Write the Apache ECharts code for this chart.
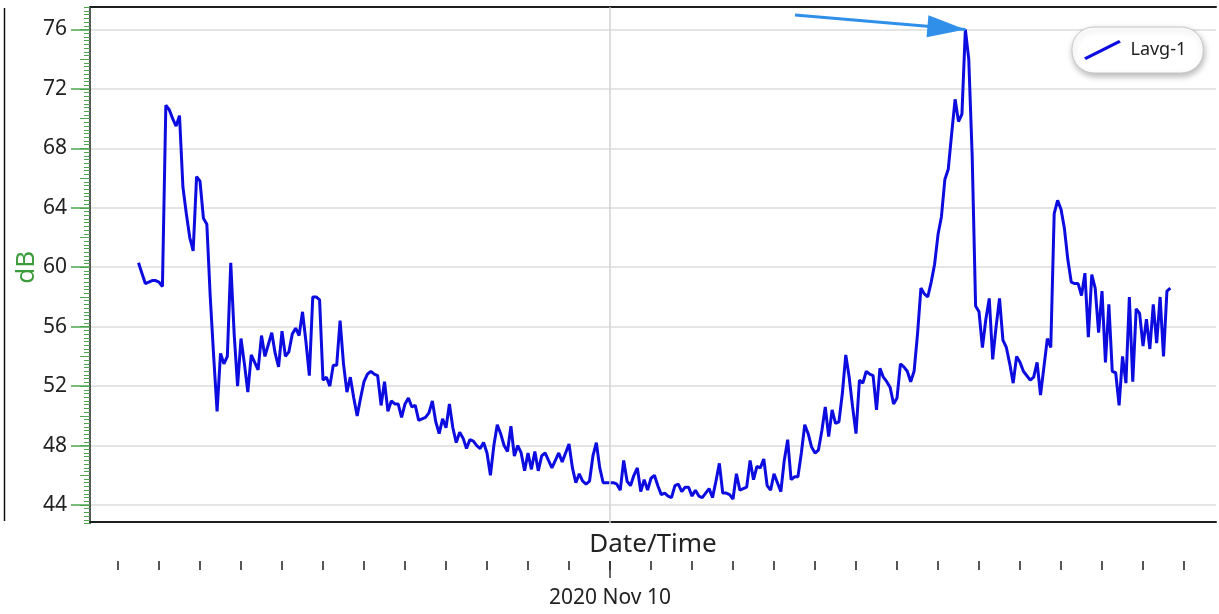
<!DOCTYPE html>
<html>
<head>
<meta charset="utf-8">
<script src="https://cdn.jsdelivr.net/npm/echarts@6/dist/echarts.min.js"></script>
<style>
html,body{margin:0;padding:0;background:#fff;}
#c{width:1219px;height:614px;}
</style>
</head>
<body>
<div id="c"></div>
<script>
// ---- data ----
const seriesName = 'Lavg-1';
const startTime = Date.UTC(2020, 10, 9, 12, 30); // first sample
const stepMinutes = 5;
const lavg = [
60.3,59.6,58.9,59.0,59.1,59.1,59.0,58.7,70.9,70.6,
70.0,69.5,70.2,65.4,63.6,62.0,61.1,66.1,65.8,63.3,
62.9,58.0,54.0,50.3,54.2,53.5,54.0,60.3,55.5,52.0,
55.2,53.5,51.6,54.1,53.6,53.1,55.4,54.0,54.8,55.6,
54.2,53.3,55.7,54.0,54.3,55.5,55.9,55.4,57.0,55.0,
52.7,58.0,58.0,57.8,52.4,52.6,52.0,53.4,53.4,56.4,
53.5,51.6,52.6,51.2,50.0,51.2,52.3,52.8,53.0,52.8,
52.7,50.7,52.3,50.3,51.0,50.8,50.8,49.9,50.8,51.2,
50.6,50.7,49.7,49.8,49.9,50.2,51.0,49.6,48.8,49.8,
49.2,50.8,49.2,48.2,48.9,48.5,47.8,48.4,48.3,48.0,
47.8,48.2,47.5,46.0,48.0,49.4,48.8,48.0,47.6,49.3,
47.3,48.0,47.5,46.3,47.5,46.4,47.6,46.3,47.3,47.5,
47.0,46.5,47.0,47.5,46.9,47.5,48.1,46.5,45.5,46.1,
45.6,45.4,45.6,47.3,48.2,46.5,45.5,45.5,45.5,45.5,
45.4,45.0,47.0,45.6,45.3,46.0,46.5,44.9,45.7,45.0,
45.8,46.0,45.3,44.7,44.8,44.6,44.5,45.3,45.4,44.9,
45.2,45.2,44.6,45.0,44.6,44.5,44.8,45.1,44.5,45.6,
46.8,44.8,44.8,44.7,44.4,46.1,45.0,45.1,45.2,47.0,
45.7,46.6,46.5,47.1,45.3,45.0,46.1,45.5,44.9,47.0,
48.4,45.7,45.9,45.9,47.5,49.4,48.8,47.9,47.5,47.7,
49.0,50.6,48.6,50.4,49.5,49.6,51.5,54.1,52.6,50.6,
48.8,52.4,52.2,53.0,52.8,52.7,50.4,53.2,52.6,52.3,
51.9,50.8,51.2,53.5,53.3,53.0,52.3,53.0,55.5,58.6,
58.2,58.0,59.0,60.2,62.2,63.4,65.9,66.6,69.0,71.3,
69.8,70.3,76.0,74.0,67.5,57.4,57.0,54.6,56.5,57.9,
53.8,56.0,57.9,55.1,54.6,53.5,52.2,54.0,53.6,53.0,
52.7,52.4,52.6,53.6,51.4,53.3,55.2,54.6,63.6,64.5,
63.9,62.6,60.5,59.0,58.9,58.9,58.1,59.6,55.3,59.5,
58.6,55.6,58.4,53.6,57.5,53.0,52.9,50.7,54.0,52.2,
58.0,52.3,57.2,56.9,54.7,56.5,54.5,57.5,54.9,58.0,
54.0,58.4,58.6
];
const yTicks = [44, 48, 52, 56, 60, 64, 68, 72, 76];
const hourTicks = [-12,-11,-10,-9,-8,-7,-6,-5,-4,-3,-2,-1,0,1,2,3,4,5,6,7,8,9,10,11,12,13,14];
const dayLabel = '2020 Nov 10';
const yUnit = 'dB';
const xTitle = 'Date/Time';

// ---- derived ----
const HOUR = 3600 * 1000;
const midnight = Date.UTC(2020, 10, 10, 0, 0);
const xMin = midnight - 12.683 * HOUR;
const xMax = midnight + 14.78 * HOUR;
const arrowFrom = [midnight + 4.512 * HOUR, 76.98];
const points = lavg.map((v, i) => [startTime + i * stepMinutes * 60000, v]);

const GREEN = '#4ea64e';
const FONT = 'Noto Sans';
const G = {outerBoundsMode: 'none', containLabel: false};
const plotGrid = Object.assign({left: 90, right: 3, top: 29.48, height: 475.52}, G);
const rowGrid = Object.assign({left: 118, right: 35, top: 555, height: 6}, G);
const hiddenY = (g) => ({gridIndex: g, type: 'value', show: false, min: 0, max: 1});
const hiddenTimeX = (g) => ({gridIndex: g, type: 'time', min: xMin, max: xMax, show: false});

const chart = echarts.init(document.getElementById('c'), null, {renderer: 'canvas'});
chart.setOption({
  animation: false,
  backgroundColor: '#fff',
  textStyle: {fontFamily: FONT},
  grid: [
    Object.assign({left: 90, right: 3, top: 7.19, height: 516.39}, G), // 0 ruler + series
    Object.assign({}, plotGrid),   // 1 labels + frame
    Object.assign({}, plotGrid),   // 2 medium ticks
    Object.assign({}, rowGrid),    // 3 hour ticks
    Object.assign({}, rowGrid)     // 4 day tick + label
  ],
  legend: {
    left: 1072, top: 27,
    padding: [13, 17, 13, 12],
    itemWidth: 38, itemHeight: 20, itemGap: 6,
    backgroundColor: '#fff',
    borderColor: '#c8c8c8', borderWidth: 1, borderRadius: 22,
    shadowBlur: 6, shadowColor: 'rgba(0,0,0,0.28)', shadowOffsetX: 1, shadowOffsetY: 3,
    textStyle: {fontSize: 18, color: '#222', fontFamily: FONT, padding: [0, 0, 0, 4]},
    data: [{name: seriesName, icon: 'path://M0,18 L36,0 L38,2.6 L2,20.6 Z'}]
  },
  xAxis: [
    hiddenTimeX(0),
    {gridIndex: 1, type: 'time', min: xMin, max: xMax, position: 'bottom', offset: 16.5,
      axisLine: {show: true, lineStyle: {color: '#1e1e1e', width: 2}},
      axisTick: {show: false}, axisLabel: {show: false}, splitLine: {show: false},
      name: xTitle, nameLocation: 'middle', nameGap: 10,
      nameTextStyle: {fontSize: 26, color: '#222', fontFamily: FONT}},
    {gridIndex: 1, type: 'time', min: xMin, max: xMax, position: 'top', offset: 22.5,
      axisLine: {show: true, lineStyle: {color: '#1e1e1e', width: 2}},
      axisTick: {show: false}, axisLabel: {show: false}, splitLine: {show: false}},
    hiddenTimeX(2),
    {gridIndex: 3, type: 'category', data: hourTicks, boundaryGap: false, position: 'bottom',
      axisLine: {show: false},
      axisTick: {show: true, length: 9, lineStyle: {color: '#555', width: 2}},
      axisLabel: {show: false}, splitLine: {show: false}},
    {gridIndex: 4, type: 'category', data: hourTicks, boundaryGap: false, position: 'bottom',
      axisLine: {show: false},
      axisTick: {show: true, length: 17, interval: (i, v) => Number(v) === 0, lineStyle: {color: '#333', width: 1.5}},
      axisLabel: {show: true, interval: (i, v) => Number(v) === 0, formatter: () => dayLabel,
        margin: 27, fontSize: 21, color: '#222', fontFamily: FONT},
      splitLine: {show: false}}
  ],
  yAxis: [
    {gridIndex: 0, type: 'value', min: 42.75, max: 77.5, interval: 0.25,
      axisLine: {show: true, lineStyle: {color: '#1e1e1e', width: 1.5}},
      axisTick: {show: true, length: 6, lineStyle: {color: GREEN, width: 1}},
      axisLabel: {show: false}, splitLine: {show: false}},
    {gridIndex: 1, type: 'value', min: yTicks[0], max: yTicks[yTicks.length - 1], interval: 4,
      axisLine: {show: false},
      axisTick: {show: true, length: 19, lineStyle: {color: GREEN, width: 1.5}},
      axisLabel: {show: true, margin: 23, fontSize: 21, color: '#222', fontFamily: FONT},
      splitLine: {show: true, lineStyle: {color: '#dcdcdc', width: 1.5}},
      name: yUnit, nameLocation: 'middle', nameGap: 50, nameRotate: 90, nameMoveOverlap: false,
      nameTextStyle: {fontSize: 26, color: '#3c9c3c', fontFamily: FONT}},
    {gridIndex: 2, type: 'value', min: yTicks[0], max: yTicks[yTicks.length - 1], interval: 2,
      axisLine: {show: false},
      axisTick: {show: true, length: 10, lineStyle: {color: GREEN, width: 1}},
      axisLabel: {show: false}, splitLine: {show: false}},
    hiddenY(3),
    hiddenY(4)
  ],
  series: [{
    name: seriesName,
    type: 'line',
    xAxisIndex: 0, yAxisIndex: 0,
    data: points,
    showSymbol: false, symbol: 'none',
    lineStyle: {color: '#0c0ce0', width: 3},
    itemStyle: {color: '#0c0ce0'},
    emphasis: {disabled: true},
    markLine: {
      silent: true,
      animation: false,
      label: {show: false},
      emphasis: {disabled: true},
      data: [
        [{xAxis: midnight, yAxis: 42.75, symbol: 'none', lineStyle: {color: '#d2d2d2', width: 1.5, type: 'solid'}},
         {xAxis: midnight, yAxis: 77.5, symbol: 'none'}],
        [{coord: arrowFrom, symbol: 'none', lineStyle: {color: '#2f8fe9', width: 3, type: 'solid'}},
         {type: 'max', symbol: 'triangle', symbolSize: [22, 38], symbolOffset: [0, 19]}]
      ]
    }
  }],
  graphic: [{
    type: 'line', silent: true,
    shape: {x1: 4.5, y1: 8, x2: 4.5, y2: 521},
    style: {stroke: '#111', lineWidth: 1.5}
  }]
});
</script>
</body>
</html>
